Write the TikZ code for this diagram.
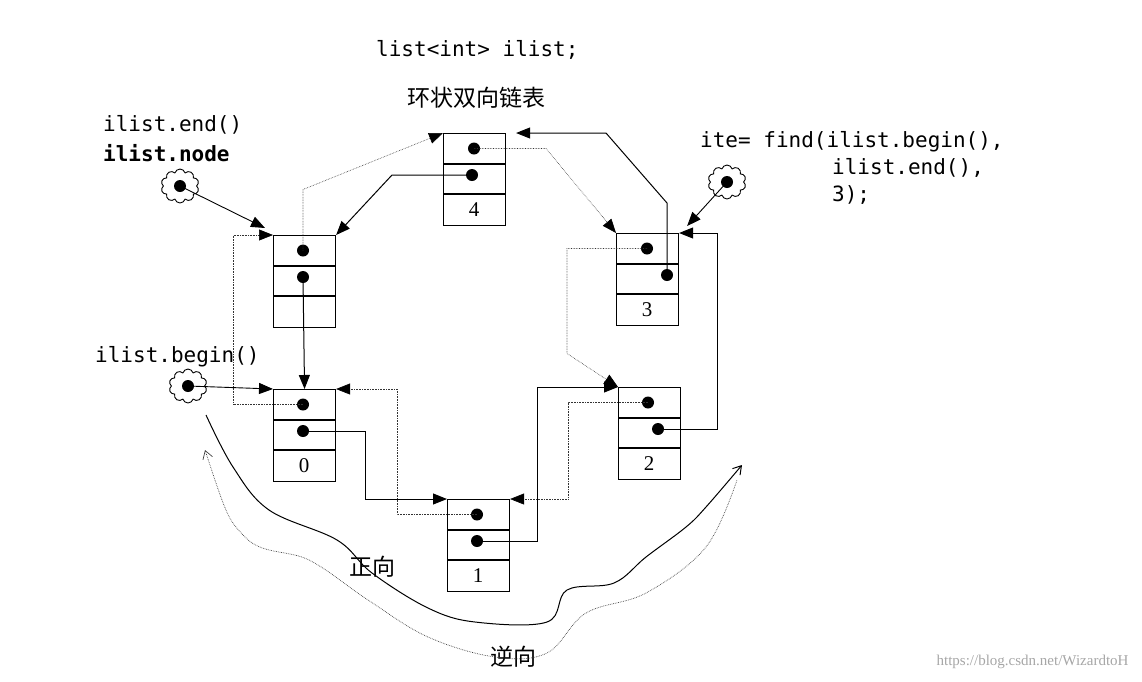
\documentclass[tikz,border=0pt]{standalone}
\usepackage{fontspec}
\setmonofont{DejaVu Sans Mono}
\newfontfamily\cjk{Noto Sans CJK SC}
\setmainfont{Liberation Serif}
\usetikzlibrary{arrows.meta,calc,shapes.symbols}
\tikzset{
  nxt/.style={line width=1pt,-{Triangle[length=14pt,width=11pt]}},
  prv/.style={densely dotted,line width=0.6pt,black!80,-{Triangle[length=14pt,width=11pt,fill=black,color=black]}},
  cell/.style={draw,line width=1.1pt,minimum width=62pt,minimum height=92pt,anchor=north west,inner sep=0pt},
  puff/.style={cloud,cloud puffs=10,draw,line width=0.9pt,minimum width=38pt,minimum height=34pt,inner sep=0pt},
  code/.style={font=\ttfamily\fontsize{21}{24}\selectfont,anchor=west,inner sep=0pt},
  cn/.style={font=\cjk\fontsize{23}{26}\selectfont,inner sep=0pt},
}
\newcommand\lnode[6]{%
  \node[cell] (#1) at (#2,#3) {};
  \draw[line width=1.1pt] ($(#1.north west)+(0,31)$) -- ++(62,0) ($(#1.north west)+(0,61)$) -- ++(62,0);
  \node[font=\fontsize{21}{24}\selectfont] (#1-v) at ($(#1.north west)+(31,77)$) {#4};
  \coordinate (#1-a) at ($(#1.north west)+(#5,15.5)$);
  \coordinate (#1-b) at ($(#1.north west)+(#6,42)$);
  \fill (#1-a) circle (6pt) (#1-b) circle (6pt);
}
\begin{document}
\begin{tikzpicture}[x=1pt,y=-1pt]
\useasboundingbox (0,0) rectangle (1142,681);
\lnode{n4}{443}{133}{4}{31}{29}
\lnode{nE}{273}{235}{}{30}{30}
\lnode{n3}{616}{233}{3}{31}{51}
\lnode{n0}{273}{389}{0}{30}{30}
\lnode{n2}{618}{387}{2}{30}{40}
\lnode{n1}{447}{499}{1}{30}{30}
% next pointers
\draw[nxt] (n4-b) -- ++(-80,0) -- (nE.north east);
\draw[nxt] (nE-b) -- (n0.north);
\draw[nxt] (n0-b) -- ++(62,0) |- (n1.north west);
\draw[nxt] (n1-b) -- ++(60,0) |- (n2.north west);
\draw[nxt] (n2-b) -- ++(59,0) |- (n3.north east);
\draw[nxt] (n3-b) -- ++(0,-72) -- (606,133) -- ($(n4.north east)+(10,0)$);
% prev pointers
\draw[prv] (n4-a) -- ++(72,0) -- (n3.north west);
\draw[prv] (n3-a) -- ++(-80,0) -- ++(0,105) -- (n2.north west);
\draw[prv] (n2-a) -- ++(-80,0) |- (n1.north east);
\draw[prv] (n1-a) -- ++(-80,0) |- (n0.north east);
\draw[prv] (n0-a) -- ++(-70,0) |- (nE.north west);
\draw[prv] (nE-a) -- ++(0,-61) -- (n4.north west);
% clouds
\node[puff] (cE) at (180,186) {};
\node[puff] (cI) at (727,182) {};
\node[puff] (cB) at (188,386) {};
\fill (cE.center) circle (6pt) (cI.center) circle (6pt) (cB.center) circle (6pt);
\draw[line width=0.9pt,-{Triangle[length=14pt,width=11pt]}] (cE.center) -- ($(nE.north west)+(-8,-7)$);
\draw[line width=0.9pt,-{Triangle[length=14pt,width=11pt]}] (cI.center) -- ($(n3.north east)+(8,-7)$);
\draw[line width=0.9pt,-{Triangle[length=14pt,width=11pt]}] (cB.center) -- (n0.north west);
% texts
\node[code] (t1) at (376,50) {list<int> ilist;};
\node[cn] (t2) at (476,98) {环状双向链表};
\node[code] (t3) at (103,125) {ilist.end()};
\node[code,font=\ttfamily\bfseries\fontsize{21}{24}\selectfont] (t4) at (103,153) {ilist.node};
\node[code] (t5) at (95,357) {ilist.begin()};
\node[code] (t6) at (700,142) {ite= find(ilist.begin(),};
\node[code] (t7) at (832,168) {ilist.end(),};
\node[code] (t8) at (832,195) {3);};
\node[cn] (t9) at (372,567) {正向};
\node[cn] (t10) at (513,657) {逆向};
\node[font=\fontsize{15}{17}\selectfont,black!35,anchor=east] (wm) at (1132,662) {https://blog.csdn.net/WizardtoH};
% waves
\draw[line width=1pt,-{Straight Barb[length=8pt,width=10pt]}] plot[smooth,tension=0.6] coordinates {(206,415) (233,467) (269,510) (337,540) (372,573) (428,608) (475,622) (547,622) (567,590) (614,583) (646,557) (686,527) (706,507) (742,465)};
\draw[densely dotted,line width=0.7pt,black!75,{Straight Barb[length=8pt,width=10pt]}-] plot[smooth,tension=0.6] coordinates {(205,450) (245,537) (309,560) (368,600) (428,637) (495,657) (547,653) (586,613) (646,593) (706,547) (737,480)};
\end{tikzpicture}
\end{document}
